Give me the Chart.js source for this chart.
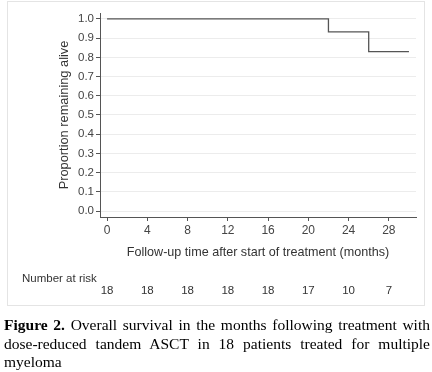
<!DOCTYPE html>
<html><head><meta charset="utf-8">
<script src="https://cdn.jsdelivr.net/npm/chart.js@4"></script>
<style>
html,body{margin:0;padding:0;background:#fff;}
#wrap{position:relative;width:432px;height:372px;overflow:hidden;}
#panel{position:absolute;left:7px;top:1px;width:418px;height:305px;border:1px solid #e4e4e4;box-sizing:border-box;}
#c{position:absolute;left:0;top:0;}
#cap{position:absolute;left:4px;top:316px;width:426px;font-family:"Liberation Serif","Times New Roman",serif;font-size:15.5px;line-height:18.5px;text-align:justify;color:#000;}
</style></head>
<body><div id="wrap"><div id="panel"></div><canvas id="c" width="432" height="372"></canvas>
<div id="cap"><b>Figure 2.</b> Overall survival in the months following treatment with dose-reduced tandem ASCT in 18 patients treated for multiple myeloma</div></div>
<script>
const times = [0, 22, 26, 30];
const survival = [1.0, 0.933, 0.83, 0.83];
const xTicks = [0, 4, 8, 12, 16, 20, 24, 28];
const yTicks = [0, 0.1, 0.2, 0.3, 0.4, 0.5, 0.6, 0.7, 0.8, 0.9, 1.0];
const riskTimes = [0, 4, 8, 12, 16, 20, 24, 28];
const atRisk = [18, 18, 18, 18, 18, 17, 10, 7];
const riskLabel = "Number at risk";

const FONT = '"Liberation Sans", Arial, sans-serif';
const riskPlugin = {
  id: 'risk',
  afterDraw(chart) {
    const ctx = chart.ctx, xs = chart.scales.x;
    ctx.save();
    ctx.fillStyle = '#333';
    ctx.font = '11.5px ' + FONT;
    ctx.textBaseline = 'middle';
    ctx.textAlign = 'left';
    ctx.fillText(riskLabel, 22, 279);
    ctx.textAlign = 'center';
    riskTimes.forEach((t, i) => ctx.fillText(String(atRisk[i]), xs.getPixelForValue(t), 291));
    ctx.restore();
  }
};

new Chart(document.getElementById('c'), {
  type: 'scatter',
  data: { datasets: [{
    data: times.map((t, i) => ({x: t, y: survival[i]})),
    showLine: true, stepped: 'before',
    borderColor: '#555', borderWidth: 1.3, pointRadius: 0, fill: false
  }]},
  options: {
    responsive: false, animation: false,
    layout: { padding: { left: 0, top: 13, right: 16, bottom: 111.5 } },
    plugins: { legend: {display: false}, tooltip: {enabled: false} },
    scales: {
      x: {
        type: 'linear', min: -0.7, max: 30.7,
        afterBuildTicks: s => { s.ticks = xTicks.map(v => ({value: v})); },
        afterFit: s => { s.height = 43.5; },
        ticks: { color: '#444', font: {family: FONT, size: 12}, padding: 2, maxRotation: 0, autoSkip: false },
        grid: { drawOnChartArea: false, drawTicks: true, tickLength: 4, tickColor: '#555' },
        border: { display: true, color: '#555', width: 1 },
        title: { display: true, text: 'Follow-up time after start of treatment (months)', color: '#333',
                 font: {family: FONT, size: 12.6}, padding: {top: 0, bottom: 0} }
      },
      y: {
        type: 'linear', min: -0.031, max: 1.031,
        afterBuildTicks: s => { s.ticks = yTicks.map(v => ({value: v})); },
        afterFit: s => { s.width = 100; },
        ticks: { color: '#444', font: {family: FONT, size: 11.5}, padding: 2, autoSkip: false,
                 callback: v => Number(v).toFixed(1) },
        grid: { color: '#ececec', lineWidth: 1, drawTicks: true, tickLength: 4, tickColor: '#555' },
        border: { display: true, color: '#555', width: 1 },
        title: { display: true, text: 'Proportion remaining alive', color: '#333',
                 font: {family: FONT, size: 12.8}, padding: {top: 56.5, bottom: 0} }
      }
    }
  },
  plugins: [riskPlugin]
});
</script></body></html>
